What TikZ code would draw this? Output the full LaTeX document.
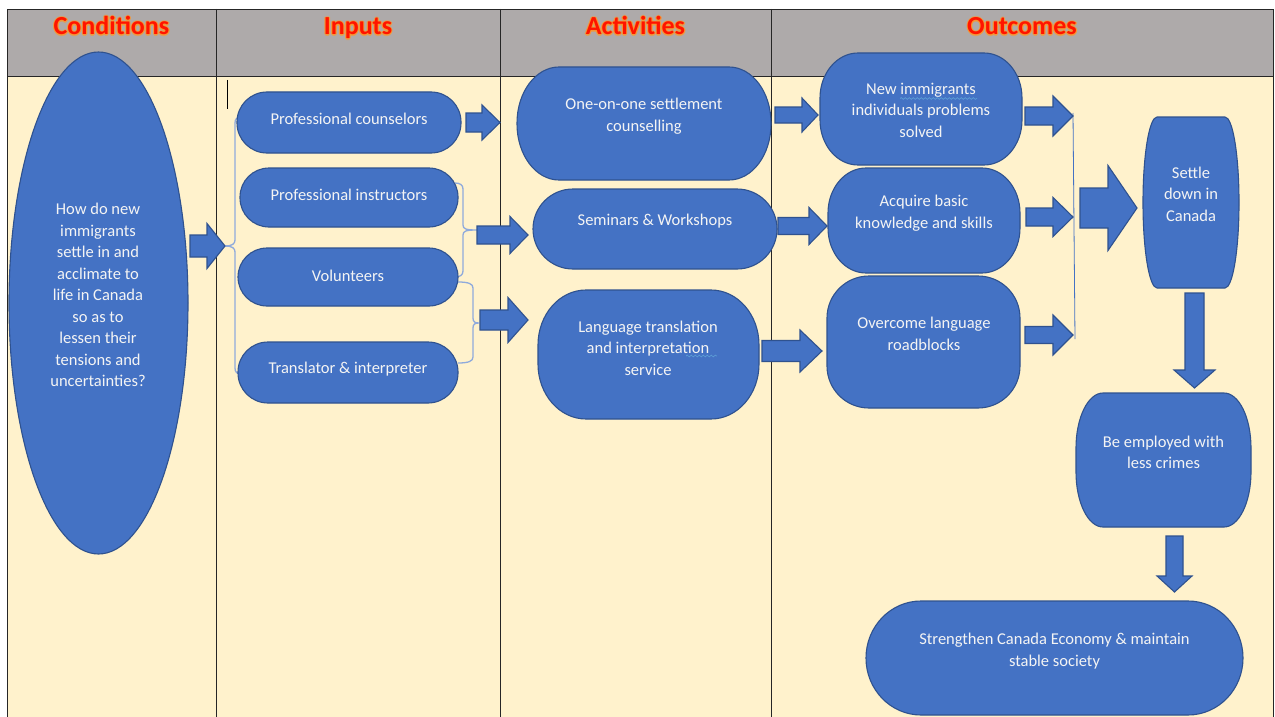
\documentclass[tikz,border=0pt]{standalone}
\usepackage{fontspec}
\setmainfont{Carlito}
\usetikzlibrary{shapes.geometric,decorations.pathmorphing}
\definecolor{bfill}{HTML}{4472C4}
\definecolor{bline}{HTML}{2F528F}
\definecolor{bracecol}{HTML}{8FAADC}
\definecolor{cream}{HTML}{FFF2CC}
\definecolor{hgray}{HTML}{AEAAAA}
\definecolor{hred}{RGB}{255,20,0}
\definecolor{hglow}{RGB}{255,150,40}
\definecolor{txtcol}{HTML}{F4F4F4}
\definecolor{squig}{HTML}{5B9BD5}

\newcommand\ebox[7]{%
 \pgfmathsetmacro\ebXa{#2-#4/2}%
 \pgfmathsetmacro\ebXb{#2+#4/2}%
 \pgfmathsetmacro\ebYa{#3-#5/2}%
 \pgfmathsetmacro\ebYb{#3+#5/2}%
 \pgfmathsetmacro\ebCx{#6*0.4477}%
 \pgfmathsetmacro\ebCy{#7*0.4477}%
 \draw[shp] (\ebXa+#6,\ebYa) -- (\ebXb-#6,\ebYa)
   .. controls (\ebXb-\ebCx,\ebYa) and (\ebXb,\ebYa+\ebCy) .. (\ebXb,\ebYa+#7)
   -- (\ebXb,\ebYb-#7)
   .. controls (\ebXb,\ebYb-\ebCy) and (\ebXb-\ebCx,\ebYb) .. (\ebXb-#6,\ebYb)
   -- (\ebXa+#6,\ebYb)
   .. controls (\ebXa+\ebCx,\ebYb) and (\ebXa,\ebYb-\ebCy) .. (\ebXa,\ebYb-#7)
   -- (\ebXa,\ebYa+#7)
   .. controls (\ebXa,\ebYa+\ebCy) and (\ebXa+\ebCx,\ebYa) .. (\ebXa+#6,\ebYa) -- cycle;
 \node[minimum width=#4pt, minimum height=#5pt, inner sep=0pt] (#1) at (#2,#3) {};
}
% right block arrow: x0 x1 x2 yc bodyhalf headhalf
\newcommand\arR[6]{%
 \draw[shp] (#1,#4-#5) -- (#2,#4-#5) -- (#2,#4-#6) -- (#3,#4) -- (#2,#4+#6) -- (#2,#4+#5) -- (#1,#4+#5) -- cycle;}
% down block arrow: xc y0 y1 y2 bodyhalf headhalf
\newcommand\arD[6]{%
 \draw[shp] (#1-#5,#2) -- (#1+#5,#2) -- (#1+#5,#3) -- (#1+#6,#3) -- (#1,#4) -- (#1-#6,#3) -- (#1-#5,#3) -- cycle;}
% header with glow: name x text
\newcommand\hdrtext[3]{%
 \foreach \gi/\gx/\gy in {a/1.2/0,b/-1.2/0,c/0/1.2,d/0/-1.2,e/0.9/0.9,f/-0.9/0.9,g/0.9/-0.9,h/-0.9/-0.9}{
   \node[hdr, text=hglow, text opacity=0.55] (#1\gi) at (#2+\gx,35+\gy) {#3};}
 \node[hdr] (#1) at (#2,35) {#3};}

\begin{document}
\begin{tikzpicture}[x=1pt,y=-1pt,
  shp/.style={fill=bfill, draw=bline, line width=1.1pt, line join=miter},
  lbl/.style={text=txtcol, font=\fontsize{16.5}{21.5}\selectfont, align=center, inner sep=0pt},
  hdr/.style={text=hred, font=\fontsize{26}{30}\selectfont\bfseries, anchor=base, inner sep=0pt},
  brc/.style={draw=bracecol, line width=1.3pt},
  grid/.style={draw=black!85, line width=0.8pt},
  squiggle/.style={draw=squig, line width=0.7pt, decorate, decoration={snake, amplitude=0.9pt, segment length=4pt}}]
\useasboundingbox (0,0) rectangle (1275,717);
\fill[white] (0,0) rectangle (1275,717);
% table
\fill[hgray] (7,9) rectangle (1273,76.5);
\fill[cream] (7,76.5) rectangle (1273,717);
\draw[grid] (7,717) -- (7,9) -- (1273,9) -- (1273,717);
\draw[grid] (7,76.5) -- (1273,76.5);
\draw[grid] (216,9) -- (216,717);
\draw[grid] (500,9) -- (500,717);
\draw[grid] (771,9) -- (771,717);
\draw[black, line width=0.9pt] (227,80) -- (227,109);
% headers
\hdrtext{hcond}{111.5}{Conditions}
\hdrtext{hinp}{358}{Inputs}
\hdrtext{hact}{635.5}{Activities}
\hdrtext{hout}{1022}{Outcomes}
% braces
\draw[brc] (241,117) .. controls (237,117) and (235,119) .. (235,123) -- (235,240)
  .. controls (235,244) and (232,246) .. (225,246) .. controls (232,246) and (235,248) .. (235,252)
  -- (235,368) .. controls (235,372) and (237,374) .. (241,374);
\draw[brc] (455,183) .. controls (460,183) and (463,185) .. (463,189) -- (463,225)
  .. controls (463,229) and (466,230) .. (477,230) .. controls (466,230) and (463,231) .. (463,235)
  -- (463,271) .. controls (463,275) and (460,277) .. (455,277);
\draw[brc] (458,282) .. controls (469,282) and (473,284) .. (473,288) -- (473,318)
  .. controls (473,322) and (475,323) .. (479,323) .. controls (475,323) and (473,324) .. (473,328)
  -- (473,357) .. controls (473,361) and (469,363) .. (458,363);
\draw[draw=bfill, line width=0.8pt] (1073,113) -- (1075,339);
% condition ellipse
\node[ellipse, shp, minimum width=179pt, minimum height=502pt, inner sep=0pt] (cond) at (98.5,303) {};
% inputs
\ebox{counsel}{349}{122.5}{224}{61}{30}{30}
\ebox{instr}{349}{197.5}{218}{59}{29}{29}
\ebox{volun}{348}{277}{220}{58}{29}{29}
\ebox{transl}{348}{372.5}{220}{61}{30}{30}
% activities
\ebox{onone}{644}{123.5}{254}{113}{42}{56}
\ebox{semin}{655}{229}{244}{80}{40}{40}
\ebox{lang}{648.5}{354.5}{221}{129}{48}{55}
% outcomes
\ebox{newimm}{921}{109}{202}{112}{38}{45}
\ebox{acq}{924}{220.5}{192}{105}{38}{45}
\ebox{over}{923.5}{342}{193}{132}{42}{42}
\ebox{settle}{1191}{202.5}{96}{171}{14}{85}
\ebox{employ}{1163.5}{460}{175}{134}{27}{55}
\ebox{stren}{1054.5}{658}{377}{114}{55}{57}
% block arrows
\arR{190}{207}{225}{246}{11}{22.5}
\arR{466}{482}{500}{122.5}{9.5}{17.5}
\arR{477}{510}{528}{235}{9}{18.5}
\arR{480}{508}{528}{320}{10}{22.5}
\arR{775}{802}{818}{115}{8}{17}
\arR{778}{809}{827}{226}{8.5}{18.5}
\arR{762}{800}{822}{351}{10.5}{21}
\arR{1025}{1053}{1073}{116}{9}{20}
\arR{1026}{1053}{1073}{217}{9}{19.5}
\arR{1025}{1053}{1073}{335}{8.5}{20}
\arR{1080}{1108}{1137}{208}{20}{42.5}
\arD{1194.5}{293}{370}{388}{9.5}{20.5}
\arD{1174.5}{536}{576}{592}{8.5}{17.5}
% texts
\node[lbl] (tcond) at (98,295) {How do new\\immigrants\\settle in and\\acclimate to\\life in Canada\\so as to\\lessen their\\tensions and\\uncertainties?};
\node[lbl] (tcounsel) at (349,119) {Professional counselors};
\node[lbl] (tinstr) at (349,195) {Professional instructors};
\node[lbl] (tvolun) at (348,276) {Volunteers};
\node[lbl] (ttransl) at (348,369) {Translator \& interpreter};
\node[lbl] (tonone) at (644,116) {One-on-one settlement\\counselling};
\node[lbl] (tsemin) at (655,221) {Seminars \& Workshops};
\node[lbl] (tlang) at (648,348) {Language translation\\and interpretation\\service};
\node[lbl] (tnewimm) at (921,110) {New immigrants\\individuals problems\\solved};
\node[lbl] (tacq) at (924,213) {Acquire basic\\knowledge and skills};
\node[lbl] (tover) at (924,334) {Overcome language\\roadblocks};
\node[lbl] (tsettle) at (1191,194) {Settle\\down in\\Canada};
\node[lbl] (temploy) at (1163.5,452.5) {Be employed with\\less crimes};
\node[lbl] (tstren) at (1054.5,651) {Strengthen Canada Economy \& maintain\\stable society};
% spell-check marks
\draw[squiggle] (686,356) -- (717,356);
\draw[squiggle] (900,98.5) -- (977,98.5);
\end{tikzpicture}
\end{document}
